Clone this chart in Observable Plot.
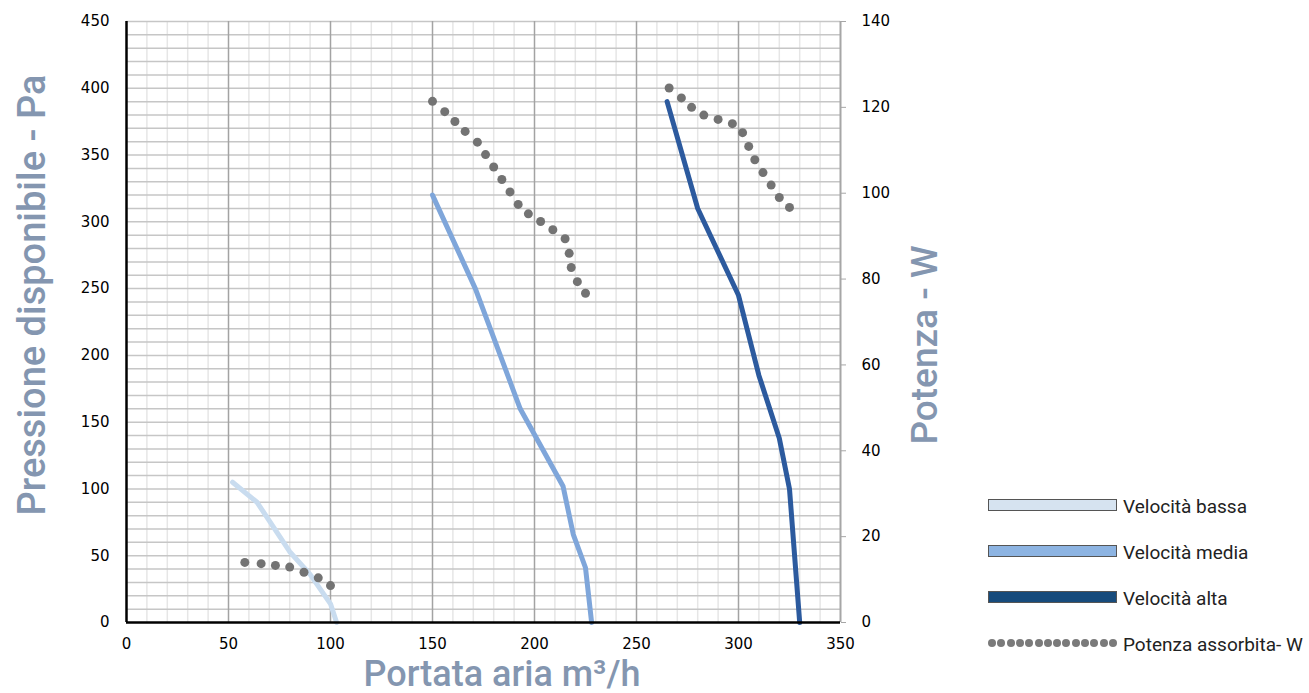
<!DOCTYPE html>
<html>
<head>
<meta charset="utf-8">
<script src="https://cdn.jsdelivr.net/npm/d3@7"></script>
<script src="https://cdn.jsdelivr.net/npm/@observablehq/plot@0.6"></script>
<style>
  html, body { margin: 0; padding: 0; background: #fff; }
  #wrap { position: relative; width: 1309px; height: 693px; overflow: hidden; }
  .ttl { position: absolute; font-family: Roboto, "Open Sans", sans-serif; font-weight: 500; color: #8496b0; font-size: 37px; white-space: nowrap; line-height: 1.15; }
  .lg-box { position: absolute; left: 988px; width: 127px; height: 10px; border: 1px solid #555; }
  .lg-txt { position: absolute; left: 1123px; font-family: Roboto, "Open Sans", sans-serif; font-size: 19px; color: #222; white-space: nowrap; line-height: 1; }
  .lg-dot { position: absolute; width: 8px; height: 8px; border-radius: 50%; background: #7a7a7a; }
</style>
</head>
<body>
<div id="wrap"></div>
<script>
// ---- Data ----
// Velocità bassa: portata (m3/h) vs pressione (Pa)
const lowQ = [52, 64, 80, 90, 100, 103];
const lowP = [105, 90, 53, 36, 14, 0];
// Velocità media
const medQ = [150, 171, 193, 214, 219, 225, 228];
const medP = [320, 250, 160, 102, 66, 41, 0];
// Velocità alta
const highQ = [265, 280, 300, 310, 320, 325, 330];
const highP = [390, 310, 245, 185, 138, 100, 0];
// Potenza assorbita (W) — three groups
const powLowQ = [58, 66, 73, 80, 87, 94, 100];
const powLowW = [14.0, 13.7, 13.3, 12.9, 11.7, 10.4, 8.6];
const powMedQ = [150, 156, 161, 166, 172, 176, 180, 184, 188, 192, 197, 203, 209, 215, 217, 218, 221, 225];
const powMedW = [121.4, 119.0, 116.7, 114.4, 111.9, 109.0, 106.1, 103.2, 100.3, 97.4, 95.2, 93.4, 91.5, 89.4, 86.0, 82.7, 79.4, 76.7];
const powHighQ = [266, 272, 277, 283, 290, 297, 302, 305, 308, 312, 316, 320, 325];
const powHighW = [124.5, 122.2, 120.0, 118.2, 117.2, 116.2, 114.1, 110.9, 107.8, 104.8, 101.9, 99.0, 96.7];

const xTicks = [0, 50, 100, 150, 200, 250, 300, 350];
const yTicks = [0, 50, 100, 150, 200, 250, 300, 350, 400, 450];
const wTicks = [0, 20, 40, 60, 80, 100, 120, 140];

const P_MAX = 450, W_MAX = 140;

// ---- Build tables ----
const mk = (qs, ps) => qs.map((q, i) => ({q, p: ps[i]}));
const low = mk(lowQ, lowP), med = mk(medQ, medP), high = mk(highQ, highP);
const pw = [
  ...powLowQ.map((q, i) => ({q, w: powLowW[i]})),
  ...powMedQ.map((q, i) => ({q, w: powMedW[i]})),
  ...powHighQ.map((q, i) => ({q, w: powHighW[i]}))
];
const w2p = w => w * P_MAX / W_MAX;

const minorX = d3.range(0, 351, 10).filter(v => v % 50 !== 0);
const majorX = [50, 100, 150, 200, 250, 300];
const minorY = d3.range(10, 451, 10);

const tickFont = "DejaVu Sans, Verdana, sans-serif";

const chart = Plot.plot({
  width: 1309,
  height: 693,
  marginLeft: 126,
  marginRight: 469,
  marginTop: 21,
  marginBottom: 71,
  style: {fontFamily: tickFont, fontSize: "15px", color: "#000", background: "transparent"},
  x: {domain: [0, 350]},
  y: {domain: [0, 450]},
  marks: [
    Plot.ruleX(minorX, {stroke: "#e6e6e6", strokeWidth: 1.5}),
    Plot.ruleY(minorY, {stroke: "#c6c6c6", strokeWidth: 1.5}),
    Plot.ruleX(majorX, {stroke: "#a3a3a3", strokeWidth: 1.5}),
    Plot.ruleX([350], {stroke: "#a6a6a6", strokeWidth: 2}),
    Plot.axisX({ticks: xTicks, tickSize: 0, tickPadding: 16, label: null, fontSize: 15}),
    Plot.axisY({ticks: yTicks, tickSize: 0, tickPadding: 17, label: null, fontSize: 15}),
    Plot.axisY({anchor: "right", ticks: wTicks.map(w2p), tickFormat: d => String(Math.round(d * W_MAX / P_MAX)),
      tickSize: 5, tickPadding: 16, label: null, fontSize: 15, stroke: "#a6a6a6"}),
    Plot.line(low, {x: "q", y: "p", stroke: "#c9dcef", strokeWidth: 5}),
    Plot.line(med, {x: "q", y: "p", stroke: "#7fa6da", strokeWidth: 5}),
    Plot.line(high, {x: "q", y: "p", stroke: "#2c5a9e", strokeWidth: 5}),
    Plot.dot(pw, {x: "q", y: d => w2p(d.w), r: 4.5, fill: "#737373"}),
    Plot.ruleX([0], {stroke: "#000", strokeWidth: 2.5}),
    Plot.ruleY([0], {stroke: "#000", strokeWidth: 2.5})
  ]
});
const wrap = document.getElementById("wrap");
wrap.appendChild(chart);

// ---- Axis titles ----
function title(text, css) {
  const d = document.createElement("div");
  d.className = "ttl";
  d.textContent = text;
  Object.assign(d.style, css);
  wrap.appendChild(d);
  return d;
}
title("Pressione disponibile - Pa", {left: "33px", top: "295px", fontSize: "38px", transform: "translate(-50%,-50%) rotate(-90deg)"});
title("Potenza - W", {left: "925px", top: "345px", transform: "translate(-50%,-50%) rotate(-90deg)"});
title("Portata aria m³/h", {left: "502px", top: "659px", fontSize: "36px", lineHeight: "0.85", transform: "translate(-50%,0)"});

// ---- Legend ----
const legendItems = [
  {label: "Velocità bassa", fill: "#d6e3f0", y: 505},
  {label: "Velocità media", fill: "#8db4e2", y: 551},
  {label: "Velocità alta", fill: "#174b7c", y: 597}
];
for (const it of legendItems) {
  const b = document.createElement("div");
  b.className = "lg-box";
  b.style.top = (it.y - 6) + "px";
  b.style.background = it.fill;
  wrap.appendChild(b);
  const t = document.createElement("div");
  t.className = "lg-txt";
  t.textContent = it.label;
  t.style.top = (it.y - 8) + "px";
  wrap.appendChild(t);
}
for (let i = 0; i < 14; i++) {
  const d = document.createElement("div");
  d.className = "lg-dot";
  d.style.left = (988 + i * 9.3) + "px";
  d.style.top = "639px";
  wrap.appendChild(d);
}
const pt = document.createElement("div");
pt.className = "lg-txt";
pt.textContent = "Potenza assorbita- W";
pt.style.top = "635px";
wrap.appendChild(pt);
</script>
</body>
</html>
